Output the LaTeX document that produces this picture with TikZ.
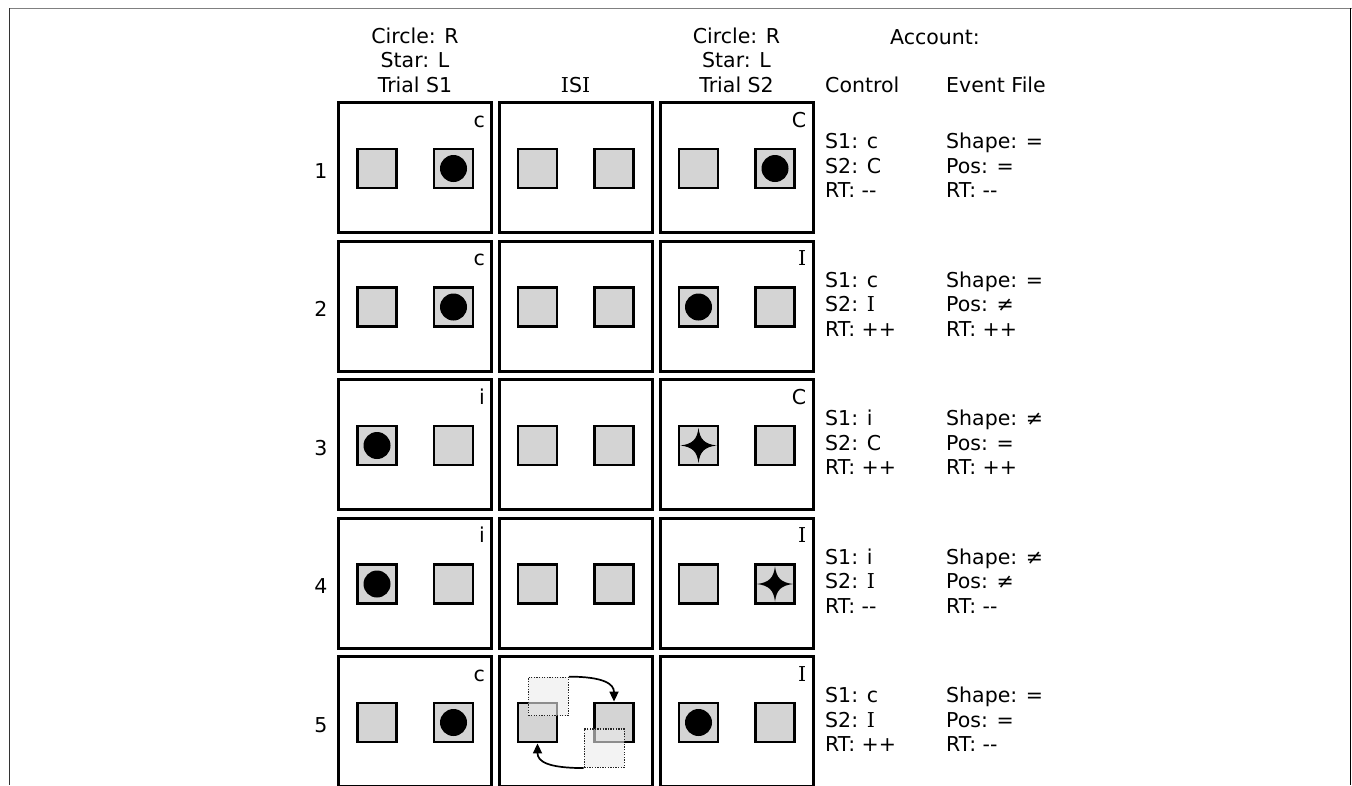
\documentclass[tikz,border=0pt]{standalone}
\usepackage{fontspec}
\setmainfont{DejaVu Sans}
\newfontfamily\serifIfont{DejaVu Serif}
\newcommand\serifI{{\serifIfont I}}
\usetikzlibrary{arrows.meta}
\tikzset{
  panel/.style={draw=black, line width=3pt, minimum width=153pt, minimum height=130pt, inner sep=0pt},
  sq/.style={draw=black, line width=2.8pt, fill=black!17, minimum size=39pt, inner sep=0pt},
  ghost/.style={draw=black!85, dash pattern=on 1.3pt off 1.3pt, line width=1.2pt, fill=black!8, fill opacity=0.6, minimum width=40pt, minimum height=38.5pt, inner sep=0pt},
  dot/.style={circle, fill=black, minimum size=27pt, inner sep=0pt},
  txt/.style={inner sep=0pt, anchor=base west},
  hdr/.style={inner sep=0pt, anchor=base},
  corner/.style={inner sep=0pt, anchor=base east},
  mover/.style={line width=1.7pt, -{Triangle[length=10pt,width=9pt]}},
}
\newcommand\fourstar[1]{%
  \fill[shift={(#1)}] (18,0) .. controls (6,1.5) and (1.5,6) .. (0,17.5)
     .. controls (-1.5,6) and (-6,1.5) .. (-18,0)
     .. controls (-6,-1.5) and (-1.5,-6) .. (0,-17.5)
     .. controls (1.5,-6) and (6,-1.5) .. (18,0) -- cycle;}
\begin{document}
\begin{tikzpicture}[x=1pt, y=-1pt, font=\fontsize{20.5}{24.5}\selectfont]
\useasboundingbox (0,0) rectangle (1352,785);
\clip (0,0) rectangle (1352,785);
\fill[white] (0,0) rectangle (1352,785);
% outer frame
\draw[gray, line width=1.7pt] (9,8.5) -- (1352,8.5);
\draw[black!80, line width=1.3pt] (9.5,8) -- (9.5,785);
\draw[black, line width=1.2pt] (1350.3,8) -- (1350.3,785);
% headers
\node[hdr] (h1a) at (415,43) {Circle: R};
\node[hdr] (h1b) at (415,67.5) {Star: L};
\node[hdr] (h1c) at (415,92) {Trial S1};
\node[hdr] (h2c) at (575.5,92) {\serifI S\serifI};
\node[hdr] (h3a) at (736.5,43) {Circle: R};
\node[hdr] (h3b) at (736.5,67.5) {Star: L};
\node[hdr] (h3c) at (736.5,92) {Trial S2};
\node[hdr] (h4a) at (935,44.5) {Account:};
\node[txt] (h4b) at (825,92) {Control};
\node[txt] (h4c) at (946,92) {Event File};
% grid of panels
\foreach \rw/\cy in {1/167.5,2/306,3/444.5,4/583,5/721.5} {
  \foreach \cl/\cx in {1/415,2/575.5,3/736.5} {
    \node[panel] (p\rw\cl) at (\cx,\cy) {};
    \node[sq] (s\rw\cl l) at (\cx-38,\cy+1) {};
    \node[sq] (s\rw\cl r) at (\cx+38.5,\cy+1) {};
  }
  \node[hdr] (n\rw) at (321,\cy+10.5) {\rw};
}
% corner labels
\foreach \rw/\la/\lb in {1/c/C,2/c/\serifI,3/i/C,4/i/\serifI,5/c/\serifI} {
  \node[corner] (k\rw a) at ([shift={(-8,26)}]p\rw1.north east) {\la};
  \node[corner] (k\rw b) at ([shift={(-8,26)}]p\rw3.north east) {\lb};
}
% stimuli
\node[dot] (d11) at (s11r) {};
\node[dot] (d13) at (s13r) {};
\node[dot] (d21) at (s21r) {};
\node[dot] (d23) at (s23l) {};
\node[dot] (d31) at (s31l) {};
\fourstar{s33l.center}
\node[dot] (d41) at (s41l) {};
\fourstar{s43r.center}
\node[dot] (d51) at (s51r) {};
\node[dot] (d53) at (s53l) {};
% ISI movement in row 5
\node[ghost] (g1) at (548.3,696.5) {};
\node[ghost] (g2) at (604.2,748.2) {};
\draw[mover] (g1.north east) .. controls +(34,0) and +(0,-18) .. (s52r.north);
\draw[mover] (g2.south west) .. controls +(-36,0) and +(0,18) .. (s52l.south);
% account text
\foreach \rw/\cy/\sa/\sb/\rta/\sh/\po/\rtb in {
  1/167.5/c/C/-{}-/=/=/-{}-,
  2/306/c/\serifI/++/=/≠/++,
  3/444.5/i/C/++/≠/=/++,
  4/583/i/\serifI/-{}-/≠/≠/-{}-,
  5/721.5/c/\serifI/++/=/=/-{}-} {
  \node[txt] (c\rw a) at (825,\cy-19) {S1: \sa};
  \node[txt] (c\rw b) at (825,\cy+5.5) {S2: \sb};
  \node[txt] (c\rw c) at (825,\cy+30) {RT: \rta};
  \node[txt] (e\rw a) at (946,\cy-19) {Shape: \sh};
  \node[txt] (e\rw b) at (946,\cy+5.5) {Pos: \po};
  \node[txt] (e\rw c) at (946,\cy+30) {RT: \rtb};
}
\end{tikzpicture}
\end{document}
